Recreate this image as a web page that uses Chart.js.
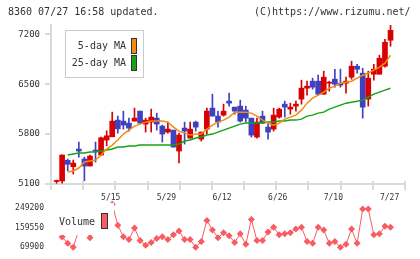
<!DOCTYPE html>
<html>
<head>
<meta charset="utf-8">
<script src="https://cdn.jsdelivr.net/npm/chart.js@4/dist/chart.umd.min.js"></script>
<style>
    html, body { margin: 0; padding: 0; background: #fff; }
    #wrap { position: relative; width: 420px; height: 259px; overflow: hidden; font-family: "DejaVu Sans Mono", monospace; }
    #wrap canvas { position: absolute; left: 0; top: 0; }
    .hdr { position: absolute; top: 6px; font-size: 10px; line-height: 12px; color: #333; white-space: pre; }
</style>
</head>
<body>
<div id="wrap">
    <canvas id="price" width="420" height="259"></canvas>
    <canvas id="volume" width="420" height="259"></canvas>
    <div class="hdr" style="left:8px">8360 07/27 16:58 updated.</div>
    <div class="hdr" style="left:254px">(C)https://www.rizumu.net/</div>
</div>
<script>
// trading days shown on the chart
const dates = ['4/28', '5/1', '5/2', '5/8', '5/9', '5/10', '5/11', '5/12',
    '5/15', '5/16', '5/17', '5/18', '5/19', '5/22', '5/23', '5/24', '5/25', '5/26',
    '5/29', '5/30', '5/31', '6/1', '6/2', '6/5', '6/6', '6/7', '6/8', '6/9',
    '6/12', '6/13', '6/14', '6/15', '6/16', '6/19', '6/20', '6/21', '6/22', '6/23',
    '6/26', '6/27', '6/28', '6/29', '6/30', '7/3', '7/4', '7/5', '7/6', '7/7',
    '7/10', '7/11', '7/12', '7/13', '7/14', '7/18', '7/19', '7/20', '7/21',
    '7/24', '7/25', '7/26', '7/27'];

const opens = [5135, 5142, 5432, 5342, 5590, 5450, 5352, 5576, 5506, 5716,
    5762, 5996, 5982, 5954, 5982, 6122, 5940, 5968, 6024, 5912,
    5828, 5856, 5562, 5884, 5744, 5968, 5730, 5870, 6164, 6052,
    6066, 6262, 6178, 6192, 6136, 6024, 5758, 6052, 5898, 5870,
    6038, 6220, 6150, 6192, 6290, 6444, 6542, 6542, 6360, 6514,
    6570, 6514, 6514, 6598, 6752, 6654, 6290, 6640, 6640, 6752, 7116];
const highs = [5155, 5510, 5450, 5436, 5688, 5478, 5506, 5688, 5758, 5846,
    6108, 6052, 6122, 6024, 6164, 6122, 6024, 6150, 6094, 5926,
    5968, 5856, 5814, 5968, 5968, 5982, 5828, 6164, 6360, 6122,
    6220, 6374, 6178, 6276, 6192, 6024, 6024, 6122, 5954, 6164,
    6164, 6262, 6234, 6262, 6556, 6542, 6584, 6626, 6682, 6542,
    6710, 6710, 6598, 6822, 6780, 6724, 6682, 6780, 6906, 7130, 7326];
const lows = [5110, 5110, 5286, 5240, 5478, 5146, 5352, 5408, 5506, 5636,
    5762, 5814, 5870, 5842, 5982, 5954, 5828, 5828, 5856, 5688,
    5814, 5618, 5394, 5660, 5744, 5842, 5702, 5800, 6052, 5898,
    6052, 6192, 6080, 5968, 5968, 5758, 5744, 5954, 5730, 5842,
    6024, 6038, 6080, 6122, 6220, 6346, 6430, 6346, 6360, 6402,
    6458, 6458, 6374, 6570, 6654, 6024, 6192, 6556, 6640, 6738, 7032];
const closes = [5145, 5506, 5376, 5394, 5562, 5352, 5492, 5562, 5748, 5776,
    5982, 5874, 5926, 5884, 6024, 5954, 5996, 6038, 5940, 5800,
    5870, 5618, 5786, 5842, 5870, 5898, 5828, 6122, 6052, 5968,
    6122, 6234, 6122, 5982, 6024, 5786, 5968, 5954, 5828, 6066,
    6150, 6178, 6178, 6220, 6444, 6472, 6458, 6360, 6598, 6528,
    6500, 6486, 6542, 6752, 6710, 6178, 6584, 6710, 6864, 7088, 7256];

const ma5 = [null, null, 5268, 5282, 5324, 5408, 5422, 5436, 5506, 5590,
    5646, 5716, 5800, 5856, 5912, 5940, 5968, 5982, 5982, 5982,
    5968, 5898, 5842, 5814, 5786, 5800, 5800, 5870, 5926, 5968,
    5996, 6038, 6108, 6108, 6108, 6094, 6052, 5996, 5954, 5926,
    5954, 6010, 6038, 6066, 6136, 6234, 6304, 6346, 6388, 6444,
    6472, 6514, 6528, 6542, 6584, 6626, 6654, 6696, 6738, 6794, 6906];
const ma25 = [null, null, 5506, 5520, 5534, 5534, 5548, 5548, 5562, 5576,
    5590, 5618, 5618, 5632, 5632, 5646, 5646, 5646, 5646, 5646,
    5646, 5646, 5660, 5702, 5716, 5744, 5758, 5786, 5800, 5828,
    5856, 5884, 5912, 5940, 5954, 5954, 5954, 5954, 5968, 5968,
    5982, 5982, 5996, 5996, 6010, 6052, 6066, 6094, 6108, 6150,
    6178, 6206, 6234, 6248, 6262, 6276, 6318, 6360, 6388, 6416, 6444];

const volumes = [188000, 116700, 87400, 69900, 148600, 188000, 113600, 153000, 188000, 175000,
    266700, 170500, 118000, 104900, 157400, 100500, 78600, 91800, 109300, 118000,
    104900, 126700, 144200, 104900, 104900, 69900, 96100, 192300, 148600, 113600,
    135500, 122400, 91800, 131100, 83000, 196700, 100500, 100500, 139900, 161700,
    126700, 131100, 135500, 153000, 161700, 96100, 87400, 161700, 148600, 87400,
    96100, 69900, 83000, 153000, 87400, 244800, 244800, 126700, 131100, 166100, 161700];

const priceTicks = [5100, 5800, 6500, 7200];
const volumeTicks = [69900, 159550, 249200];
const labelDates = ['5/15', '5/29', '6/12', '6/26', '7/10', '7/27'];

const X_MAX = 63.6;          // slots across the plot
const RED = '#d80000';
const BLUE = '#4040c0';
const ORANGE = '#f28c0f';
const GREEN = '#16a316';
const VOL = '#f85c62';
const AXIS = '#dadada';
const TEXT = '#333';
const FONT = '"DejaVu Sans Mono", monospace';

Chart.defaults.font.family = FONT;
Chart.defaults.color = TEXT;

const xs = dates.map((d, i) => i + 1);
const candleColor = ctx => closes[ctx.dataIndex] >= opens[ctx.dataIndex] ? RED : BLUE;

// date labels are left aligned on their day, the last one pulled in to stay inside
const labelPos = labelDates.map(d => Math.min(dates.indexOf(d) + 1, X_MAX - 4.5));

const priceDecor = {
    id: 'priceDecor',
    afterDraw(chart) {
        const { ctx, chartArea, scales: { x } } = chart;
        ctx.save();
        ctx.strokeStyle = AXIS;
        ctx.lineWidth = 2;
        for (let k = 0; k <= 11; k++) {
            const px = Math.round(x.getPixelForValue(X_MAX * k / 11));
            ctx.beginPath();
            ctx.moveTo(px, chartArea.bottom - 3);
            ctx.lineTo(px, chartArea.bottom + 6);
            ctx.stroke();
        }

        // legend box
        ctx.fillStyle = '#fff';
        ctx.fillRect(65, 30, 78, 47);
        ctx.strokeStyle = '#cccccc';
        ctx.lineWidth = 1;
        ctx.strokeRect(65.5, 30.5, 78, 47);
        ctx.font = '10px ' + FONT;
        ctx.fillStyle = TEXT;
        ctx.textAlign = 'right';
        ctx.textBaseline = 'middle';
        ctx.fillText('5-day MA', 126, 46);
        ctx.fillText('25-day MA', 126, 63);
        ctx.strokeStyle = '#333';
        ctx.fillStyle = ORANGE;
        ctx.fillRect(131.5, 38.5, 5, 15);
        ctx.strokeRect(131.5, 38.5, 5, 15);
        ctx.fillStyle = GREEN;
        ctx.fillRect(131.5, 55.5, 5, 15);
        ctx.strokeRect(131.5, 55.5, 5, 15);
        ctx.restore();
    }
};

const volumeDecor = {
    id: 'volumeDecor',
    afterDraw(chart) {
        const { ctx } = chart;
        ctx.save();
        ctx.fillStyle = '#fff';
        ctx.fillRect(51, 203, 63, 32);
        ctx.font = '10px ' + FONT;
        ctx.fillStyle = TEXT;
        ctx.textAlign = 'left';
        ctx.textBaseline = 'middle';
        ctx.fillText('Volume', 59, 222);
        ctx.fillStyle = VOL;
        ctx.strokeStyle = '#333';
        ctx.lineWidth = 1;
        ctx.fillRect(101.5, 213.5, 6, 15);
        ctx.strokeRect(101.5, 213.5, 6, 15);
        ctx.restore();
    }
};

new Chart(document.getElementById('price'), {
    type: 'bar',
    data: {
        datasets: [
            {
                type: 'line',
                data: xs.map((x, i) => ({ x: x, y: ma5[i] })),
                borderColor: ORANGE,
                borderWidth: 1.5,
                pointRadius: 0,
                tension: 0,
                order: 0
            },
            {
                type: 'line',
                data: xs.map((x, i) => ({ x: x, y: ma25[i] })),
                borderColor: GREEN,
                borderWidth: 1.5,
                pointRadius: 0,
                tension: 0,
                order: 0
            },
            {
                data: xs.map((x, i) => ({ x: x, y: [lows[i], highs[i]] })),
                backgroundColor: candleColor,
                barThickness: 1,
                grouped: false,
                order: 2
            },
            {
                data: xs.map((x, i) => ({ x: x, y: [opens[i], closes[i]] })),
                backgroundColor: candleColor,
                barThickness: 5,
                minBarLength: 1,
                grouped: false,
                order: 1
            }
        ]
    },
    options: {
        responsive: false,
        animation: false,
        devicePixelRatio: 1,
        layout: { padding: { top: 25, right: 15, left: 0, bottom: 0 } },
        plugins: { legend: { display: false }, tooltip: { enabled: false } },
        scales: {
            x: {
                type: 'linear',
                min: 0,
                max: X_MAX,
                offset: false,
                afterBuildTicks: scale => { scale.ticks = labelPos.map(v => ({ value: v })); },
                afterFit: scale => { scale.height = 75; },
                ticks: {
                    callback: (value, index) => labelDates[index],
                    font: { size: 8 },
                    color: TEXT,
                    padding: 9,
                    align: 'start',
                    autoSkip: false,
                    maxRotation: 0
                },
                grid: { display: false, drawTicks: false, offset: false },
                border: { display: true, color: AXIS, width: 2 }
            },
            y: {
                min: 5100,
                max: 7330,
                afterBuildTicks: scale => { scale.ticks = priceTicks.map(v => ({ value: v })); },
                afterFit: scale => { scale.width = 51; },
                ticks: {
                    callback: value => String(value),
                    font: { size: 9 },
                    color: TEXT,
                    padding: 5
                },
                grid: { drawOnChartArea: false, tickLength: 6, color: AXIS, lineWidth: 2 },
                border: { color: AXIS, width: 2 }
            }
        }
    },
    plugins: [priceDecor]
});

new Chart(document.getElementById('volume'), {
    type: 'line',
    data: {
        datasets: [{
            data: xs.map((x, i) => ({ x: x, y: volumes[i] })),
            borderColor: VOL,
            borderWidth: 1,
            pointStyle: 'rectRot',
            pointRadius: 3.5,
            pointBackgroundColor: VOL,
            pointBorderWidth: 0,
            tension: 0,
            clip: false
        }]
    },
    options: {
        responsive: false,
        animation: false,
        devicePixelRatio: 1,
        layout: { padding: { top: 208, right: 15, left: 0, bottom: 10 } },
        plugins: { legend: { display: false }, tooltip: { enabled: false } },
        scales: {
            x: { type: 'linear', min: 0, max: X_MAX, display: false },
            y: {
                min: 69900,
                max: 249200,
                afterBuildTicks: scale => { scale.ticks = volumeTicks.map(v => ({ value: v })); },
                afterFit: scale => { scale.width = 51; },
                ticks: {
                    callback: value => String(value),
                    font: { size: 8 },
                    color: TEXT,
                    padding: 7
                },
                grid: { display: false, drawTicks: false },
                border: { display: false }
            }
        }
    },
    plugins: [volumeDecor]
});
</script>
</body>
</html>
